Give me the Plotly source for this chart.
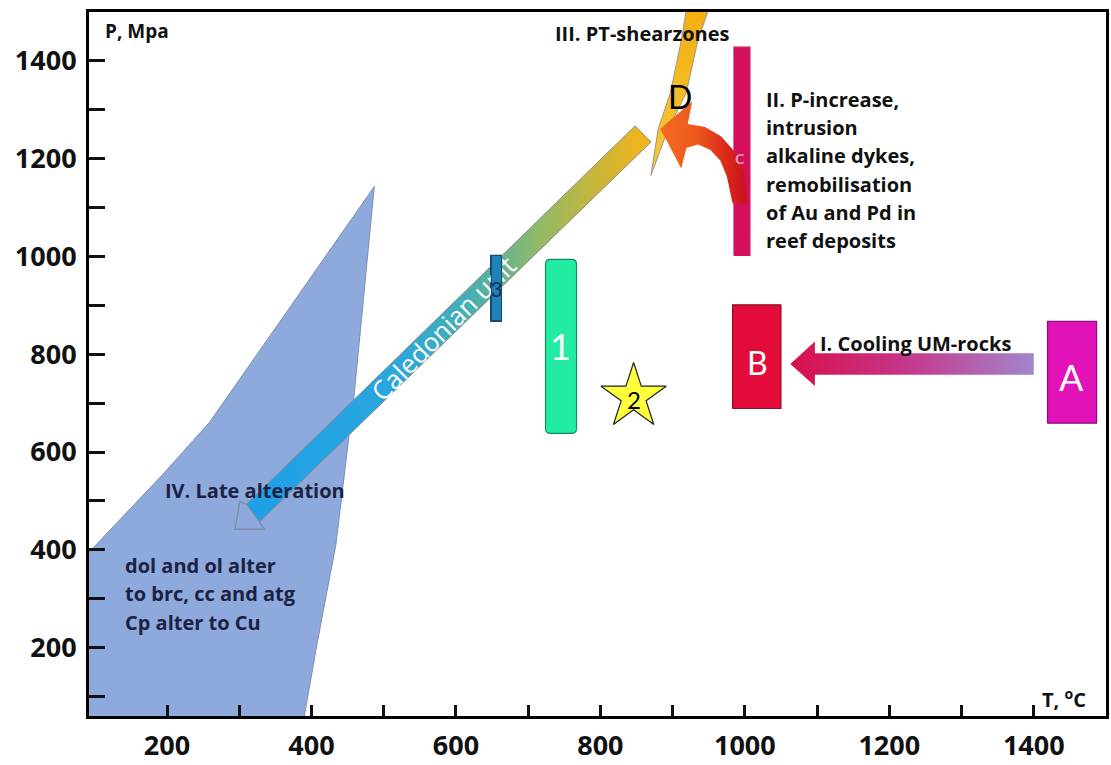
import plotly.graph_objects as go

# ---------------- data (T in °C, P in MPa) ----------------
x_range = [92, 1500]
y_range = [60, 1500]

x_tickvals = [200, 400, 600, 800, 1000, 1200, 1400]
x_ticktext = ["200", "400", "600", "800", "1000", "1200", "1400"]
x_minorvals = [300, 500, 700, 900, 1100, 1300]
y_tickvals = [200, 400, 600, 800, 1000, 1200, 1400]
y_ticktext = ["200", "400", "600", "800", "1000", "1200", "1400"]
y_minorvals = [100, 300, 500, 700, 900, 1100, 1300]

# IV. late alteration field
field_T = [487, 259, 194, 98, 60, 60, 383, 408, 434, 452, 459, 487]
field_P = [1143, 661, 554, 406, 345, 0, 0, 210, 412, 634, 715, 1143]

# Caledonian unit band (arrow shaft) and hollow arrow head
band_T = [848, 870, 328, 310, 848]
band_P = [1267, 1234, 457, 493, 1267]
head_T = [310, 301, 294, 335, 328]
head_P = [493, 499, 442, 442, 457]

# III. PT-shearzone wedge (D)
wedge_T = [870, 880, 897, 912, 921, 954, 935, 919, 894, 874, 870]
wedge_P = [1166, 1261, 1335, 1442, 1523, 1523, 1442, 1335, 1261, 1180, 1166]

# II. curved P-increase arrow
curve_T = [1004, 999, 986, 967, 945, 921, 927, 883, 912, 919, 935, 952, 966, 975, 983, 1004]
curve_P = [1109, 1174, 1214, 1246, 1265, 1271, 1317, 1261, 1180, 1222, 1229, 1218, 1196, 1164, 1109, 1109]

# I. cooling arrow
cool_T = [1063, 1097, 1097, 1400, 1400, 1097, 1097, 1063]
cool_P = [780, 826, 802, 802, 758, 758, 735, 780]

# boxes: name, T0, T1, P0, P1
box_names = ["3", "1", "C", "B", "A"]
box_T0 = [648, 724, 985, 983, 1419]
box_T1 = [663, 767, 1007, 1050, 1487]
box_P0 = [867, 638, 1002, 689, 659]
box_P1 = [1002, 994, 1428, 901, 867]
box_fill = ["#1F82B8", "#22EBA2", "#D4105C", "#E20B3A", "#E012B8"]
box_line = ["#17486E", "#1A8A62", "#D4105C", "#8A1024", "#8A1078"]

# star 2
star_T = [846]
star_P = [713]

# labels
label_text = ["1", "2", "B", "A", "c", "D"]
label_T = [745, 847, 1017, 1452, 993, 910]
label_P = [816, 707, 784, 754, 1206, 1327]
label_size = [36, 24, 32, 36, 20, 32]
label_color = ["white", "black", "white", "white", "#F7A8CC", "black"]

notes_text = ["III. PT-shearzones",
              "II. P-increase,", "intrusion", "alkaline dykes,", "remobilisation",
              "of Au and Pd in", "reef deposits",
              "I. Cooling UM-rocks", "IV. Late alteration",
              "dol and ol alter", "to brc, cc and atg", "Cp alter to Cu"]
notes_T = [735, 1026, 1026, 1026, 1026, 1026, 1026, 1101, 194, 139, 139, 139]
notes_P = [1457, 1321, 1263, 1206, 1148, 1090, 1032, 822, 521, 368, 311, 251]
notes_color = ["#111111"] * 8 + ["#1C2242"] * 4

FONT = "Open Sans"
LFONT = "Lato"

fig = go.Figure()

fig.add_trace(go.Scatter(x=field_T, y=field_P, mode="lines", fill="toself",
                         fillcolor="#8EA9DB", line=dict(color="#7F8EAE", width=1),
                         hoverinfo="skip", showlegend=False))

fig.add_trace(go.Scatter(x=band_T, y=band_P, mode="lines", fill="toself",
                         fillgradient=dict(type="horizontal", colorscale=[
                             [0.0, "#1E9FE8"], [0.35, "#29A6DE"], [0.55, "#46AFB4"],
                             [0.72, "#8FBA68"], [0.86, "#C8B63A"], [1.0, "#F7B418"]]),
                         line=dict(color="#8A8A8A", width=1),
                         hoverinfo="skip", showlegend=False))
fig.add_trace(go.Scatter(x=head_T, y=head_P, mode="lines",
                         line=dict(color="#7C8AA6", width=1.3),
                         hoverinfo="skip", showlegend=False))


def box_trace(i):
    return go.Scatter(
        x=[box_T0[i], box_T1[i], box_T1[i], box_T0[i], box_T0[i]],
        y=[box_P0[i], box_P0[i], box_P1[i], box_P1[i], box_P0[i]],
        mode="lines", fill="toself", fillcolor=box_fill[i],
        line=dict(color=box_line[i], width=1.2),
        hoverinfo="skip", showlegend=False)


for i, name in enumerate(box_names):
    if name in ("3", "C"):
        fig.add_trace(box_trace(i))

fig.add_trace(go.Scatter(x=wedge_T, y=wedge_P, mode="lines", fill="toself",
                         fillgradient=dict(type="vertical", colorscale=[
                             [0.0, "#F3C83A"], [1.0, "#F5AE0C"]]),
                         line=dict(color="#A0968A", width=1),
                         hoverinfo="skip", showlegend=False))

fig.add_trace(go.Scatter(x=curve_T, y=curve_P, mode="lines", fill="toself",
                         fillgradient=dict(type="horizontal", colorscale=[
                             [0.0, "#F46A20"], [0.4, "#EE5A1C"], [0.75, "#DA2A18"], [1.0, "#C8101E"]]),
                         line=dict(color="rgba(0,0,0,0)", width=0),
                         hoverinfo="skip", showlegend=False))

for i, name in enumerate(box_names):
    if name in ("B", "A"):
        fig.add_trace(box_trace(i))

fig.add_trace(go.Scatter(x=cool_T, y=cool_P, mode="lines", fill="toself",
                         fillgradient=dict(type="horizontal", colorscale=[
                             [0.0, "#D8104C"], [0.45, "#C63488"], [1.0, "#A486CC"]]),
                         line=dict(color="rgba(0,0,0,0)", width=0),
                         hoverinfo="skip", showlegend=False))

fig.add_trace(go.Scatter(x=star_T, y=star_P, mode="markers",
                         marker=dict(symbol="star", size=49, color="#FFFF3C",
                                     line=dict(color="#222222", width=1.2)),
                         hoverinfo="skip", showlegend=False))

# rounded box "1" as a path shape (corner radius in axis units)
i1 = box_names.index("1")
rx, ry = 7, 10
x0, x1, y0, y1 = box_T0[i1], box_T1[i1], box_P0[i1], box_P1[i1]
path1 = (f"M {x0+rx},{y0} L {x1-rx},{y0} Q {x1},{y0} {x1},{y0+ry} "
         f"L {x1},{y1-ry} Q {x1},{y1} {x1-rx},{y1} L {x0+rx},{y1} "
         f"Q {x0},{y1} {x0},{y1-ry} L {x0},{y0+ry} Q {x0},{y0} {x0+rx},{y0} Z")
shapes = [dict(type="path", path=path1, xref="x", yref="y", fillcolor=box_fill[i1],
               line=dict(color=box_line[i1], width=1.2), layer="above")]

annotations = []
for t, x, y, s, c in zip(label_text, label_T, label_P, label_size, label_color):
    annotations.append(dict(x=x, y=y, xref="x", yref="y", text=t, showarrow=False,
                            font=dict(family=LFONT, size=s, color=c),
                            xanchor="center", yanchor="middle"))
annotations.append(dict(x=583, y=853, xref="x", yref="y", text="Caledonian unit",
                        showarrow=False, textangle=-45,
                        font=dict(family=FONT, size=26, color="white"),
                        xanchor="center", yanchor="middle"))
# bar "3" label drawn over the band text (the bar hides part of it, as in the original)
i3 = box_names.index("3")
annotations.append(dict(x=(box_T0[i3] + box_T1[i3]) / 2, y=(box_P0[i3] + box_P1[i3]) / 2,
                        xref="x", yref="y", text="3", showarrow=False,
                        width=9, height=64, bgcolor=box_fill[i3], borderpad=0,
                        bordercolor=box_line[i3], borderwidth=1,
                        font=dict(family=LFONT, size=21, color="#16304E"),
                        xanchor="center", yanchor="middle", valign="middle"))
for t, x, y, c in zip(notes_text, notes_T, notes_P, notes_color):
    annotations.append(dict(x=x, y=y, xref="x", yref="y", text=t, showarrow=False,
                            font=dict(family=FONT, size=20, color=c, weight="bold"),
                            xanchor="left", yanchor="middle"))
annotations.append(dict(x=112, y=1461, xref="x", yref="y", text="P, Mpa", showarrow=False,
                        font=dict(family=FONT, size=19, color="#111111", weight="bold"),
                        xanchor="left", yanchor="middle"))
annotations.append(dict(x=1408, y=95, xref="x", yref="y", text="T, <sup>o</sup>C", showarrow=False,
                        font=dict(family=FONT, size=20, color="#111111", weight="bold"),
                        xanchor="left", yanchor="middle"))

axis_common = dict(showgrid=False, zeroline=False, showline=True, linecolor="black",
                   linewidth=3, mirror=True, ticks="inside", tickcolor="#111111",
                   tickwidth=2.5, tickfont=dict(family=FONT, size=27, color="#111111", weight="bold"))

fig.update_layout(
    width=1111, height=765,
    margin=dict(l=89, r=2, t=12, b=40),
    paper_bgcolor="white", plot_bgcolor="white",
    xaxis=dict(range=x_range, tickvals=x_tickvals, ticktext=x_ticktext, ticklen=11,
               ticklabelstandoff=4,
               minor=dict(tickvals=x_minorvals, ticks="inside", ticklen=11, tickwidth=2.5,
                          tickcolor="#111111", showgrid=False),
               **axis_common),
    yaxis=dict(range=y_range, tickvals=y_tickvals, ticktext=y_ticktext, ticklen=16,
               ticklabelstandoff=4,
               minor=dict(tickvals=y_minorvals, ticks="inside", ticklen=16, tickwidth=2.5,
                          tickcolor="#111111", showgrid=False),
               **axis_common),
    shapes=shapes,
    annotations=annotations,
    showlegend=False,
)

fig.write_html("out.html")
